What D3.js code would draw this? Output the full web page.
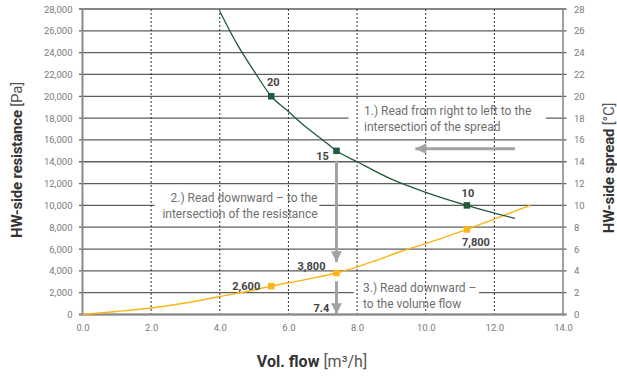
<!DOCTYPE html>
<html>
<head>
<meta charset="utf-8">
<script src="https://cdn.jsdelivr.net/npm/d3@7"></script>
<style>
  html, body { margin: 0; padding: 0; background: #fff; }
  svg { display: block; font-family: Roboto, "Noto Sans", sans-serif; }
</style>
</head>
<body>
<svg id="chart" width="617" height="380"></svg>
<script>
// Axis ticks
const flowTicks = [0, 2, 4, 6, 8, 10, 12, 14];
const resistanceTicks = [0, 2000, 4000, 6000, 8000, 10000, 12000, 14000, 16000, 18000, 20000, 22000, 24000, 26000, 28000];
const spreadTicks = [0, 2, 4, 6, 8, 10, 12, 14, 16, 18, 20, 22, 24, 26, 28];

// HW-side spread curve [°C] over volume flow [m³/h]
const spreadFlow  = [4.0, 4.5, 5.0, 5.5, 6.0, 6.5, 7.0, 7.4, 8.0, 9.0, 10.0, 11.2, 12.0, 12.6];
const spreadValue = [27.8, 24.8, 22.3, 20.0, 18.6, 17.2, 16.0, 15.0, 14.0, 12.4, 11.2, 10.0, 9.3, 8.8];

// HW-side resistance curve [Pa] over volume flow [m³/h]
const resistFlow  = [0, 1, 2, 3, 4, 5, 5.5, 6.5, 7.4, 8.5, 9.25, 10, 11.2, 12, 13.05];
const resistValue = [0, 280, 600, 1050, 1650, 2250, 2600, 3200, 3800, 4900, 5750, 6500, 7800, 8750, 10000];

// Marked points
const spreadMarks = [{ flow: 5.5, value: 20, label: "20" }, { flow: 7.4, value: 15, label: "15" }, { flow: 11.2, value: 10, label: "10" }];
const resistMarks = [{ flow: 5.5, value: 2600, label: "2,600" }, { flow: 7.4, value: 3800, label: "3,800" }, { flow: 11.2, value: 7800, label: "7,800" }];
const readFlow = 7.4;

const svg = d3.select("#chart");
const x = d3.scaleLinear().domain([0, 14]).range([82.5, 563]);
const yP = d3.scaleLinear().domain([0, 28000]).range([314.5, 9]);
const yS = d3.scaleLinear().domain([0, 28]).range([314.5, 9]);

const green = "#1f5a3a", amber = "#f9b416", grey = "#a3a3a5";

// horizontal grid (extends slightly beyond both axes)
svg.append("g").selectAll("line").data(resistanceTicks).join("line")
  .attr("x1", x(0) - 3.5).attr("x2", x(14) + 3.5)
  .attr("y1", d => yP(d)).attr("y2", d => yP(d))
  .attr("stroke", "#5e5e5e").attr("stroke-width", 1.3);

// annotation backgrounds
const boxes = [
  { x0: 7.75, x1: 13.5, y0: 19300, y1: 16300 },
  { x0: 2.1, x1: 6.9, y0: 11200, y1: 8250 },
  { x0: 7.9, x1: 11.55, y0: 3100, y1: 250 }
];
svg.append("g").selectAll("rect").data(boxes).join("rect")
  .attr("x", d => x(d.x0)).attr("width", d => x(d.x1) - x(d.x0))
  .attr("y", d => yP(d.y0)).attr("height", d => yP(d.y1) - yP(d.y0))
  .attr("fill", "#fff");

// dotted vertical grid
svg.append("g").selectAll("line").data(flowTicks.slice(1, -1)).join("line")
  .attr("x1", d => x(d)).attr("x2", d => x(d))
  .attr("y1", yP(28000)).attr("y2", yP(0))
  .attr("stroke", "#333").attr("stroke-width", 1).attr("stroke-dasharray", "2,2");

// axis frame lines
svg.append("line").attr("x1", x(0)).attr("x2", x(0)).attr("y1", yP(28000)).attr("y2", yP(0) + 1)
  .attr("stroke", "#8a8a8a").attr("stroke-width", 2);
svg.append("line").attr("x1", x(14)).attr("x2", x(14)).attr("y1", yP(28000)).attr("y2", yP(0) + 1)
  .attr("stroke", "#8a8a8a").attr("stroke-width", 1.6);
svg.append("line").attr("x1", x(0) - 3.5).attr("x2", x(14) + 3.5).attr("y1", yP(0)).attr("y2", yP(0))
  .attr("stroke", "#8a8a8a").attr("stroke-width", 2);

// tick labels via d3 axes
function styleAxis(g) {
  g.select(".domain").remove();
  g.selectAll("line").remove();
  g.selectAll("text").attr("fill", "#7a7a7a").attr("font-size", "9.5px").attr("font-family", "Roboto, sans-serif");
}
svg.append("g").attr("transform", `translate(${x(0)},0)`)
  .call(d3.axisLeft(yP).tickValues(resistanceTicks).tickFormat(d3.format(",")).tickSize(0).tickPadding(10))
  .call(styleAxis);
svg.append("g").attr("transform", `translate(${x(14)},0)`)
  .call(d3.axisRight(yS).tickValues(spreadTicks).tickFormat(d3.format("d")).tickSize(0).tickPadding(11))
  .call(styleAxis);
svg.append("g").attr("transform", `translate(0,${yP(0)})`)
  .call(d3.axisBottom(x).tickValues(flowTicks).tickFormat(d3.format(".1f")).tickSize(0).tickPadding(10))
  .call(styleAxis);

// annotation texts
const note = svg.append("g").attr("fill", "#6f6f6f").attr("font-size", "12px");
note.append("text").attr("x", 364).attr("y", 115).text("1.) Read from right to left to the");
note.append("text").attr("x", 364).attr("y", 131).text("intersection of the spread");
note.append("text").attr("x", 244).attr("y", 202).attr("text-anchor", "middle").text("2.) Read downward \u2013 to the");
note.append("text").attr("x", 240).attr("y", 218).attr("text-anchor", "middle").text("intersection of the resistance");
note.append("text").attr("x", 363).attr("y", 292).text("3.) Read downward \u2013");
note.append("text").attr("x", 363).attr("y", 308).text("to the volume flow");

// reading arrows
svg.append("defs").append("marker").attr("id", "head")
  .attr("viewBox", "0 0 10 10").attr("refX", 10).attr("refY", 5)
  .attr("markerWidth", 4).attr("markerHeight", 3.6).attr("markerUnits", "strokeWidth")
  .attr("orient", "auto")
  .append("path").attr("d", "M0,0 L10,5 L0,10 Z").attr("fill", grey);
const arrows = [
  { x1: 12.6, y1: 15.2, x2: 9.7, y2: 15.2 },
  { x1: readFlow, y1: 14.1, x2: readFlow, y2: 4.8 },
  { x1: readFlow, y1: 3.05, x2: readFlow, y2: 0.05 }
];
svg.append("g").selectAll("line").data(arrows).join("line")
  .attr("x1", d => x(d.x1)).attr("x2", d => x(d.x2))
  .attr("y1", d => yS(d.y1)).attr("y2", d => yS(d.y2))
  .attr("stroke", grey).attr("stroke-width", 3)
  .attr("marker-end", "url(#head)");

// curves
const spreadLine = d3.line().x(d => x(d[0])).y(d => yS(d[1])).curve(d3.curveMonotoneX);
const resistLine = d3.line().x(d => x(d[0])).y(d => yP(d[1])).curve(d3.curveMonotoneX);
svg.append("path").datum(resistFlow.map((f, i) => [f, resistValue[i]]))
  .attr("d", resistLine).attr("fill", "none").attr("stroke", amber).attr("stroke-width", 1.4);
svg.append("path").datum(spreadFlow.map((f, i) => [f, spreadValue[i]]))
  .attr("d", spreadLine).attr("fill", "none").attr("stroke", green).attr("stroke-width", 1.3);

// markers
const sq = 6.5;
svg.append("g").selectAll("rect").data(spreadMarks).join("rect")
  .attr("x", d => x(d.flow) - sq / 2).attr("y", d => yS(d.value) - sq / 2)
  .attr("width", sq).attr("height", sq).attr("fill", green);
svg.append("g").selectAll("rect").data(resistMarks).join("rect")
  .attr("x", d => x(d.flow) - sq / 2).attr("y", d => yP(d.value) - sq / 2)
  .attr("width", sq).attr("height", sq).attr("fill", amber);

// value labels
const lab = svg.append("g").attr("fill", "#444").attr("font-size", "11px").attr("font-weight", "bold").attr("text-anchor", "middle");
const spreadOffsets = [[2, -10], [-14, 9], [1, -8]];
spreadMarks.forEach((d, i) => lab.append("text")
  .attr("x", x(d.flow) + spreadOffsets[i][0]).attr("y", yS(d.value) + spreadOffsets[i][1]).text(d.label));
const resistOffsets = [[-25, 4], [-25, -3], [9, 17]];
resistMarks.forEach((d, i) => lab.append("text")
  .attr("x", x(d.flow) + resistOffsets[i][0]).attr("y", yP(d.value) + resistOffsets[i][1]).text(d.label));
lab.append("text").attr("x", x(readFlow) - 15).attr("y", 312).text(d3.format(".1f")(readFlow));

// axis titles
const t1 = svg.append("text").attr("transform", "translate(22,160) rotate(-90)")
  .attr("text-anchor", "middle").attr("font-size", "15px").attr("letter-spacing", "-0.2px").attr("fill", "#333");
t1.append("tspan").attr("font-weight", "bold").text("HW-side resistance ");
t1.append("tspan").attr("fill", "#555").text("[Pa]");

const t2 = svg.append("text").attr("transform", "translate(614,168) rotate(-90)")
  .attr("text-anchor", "middle").attr("font-size", "15px").attr("letter-spacing", "-0.2px").attr("fill", "#333");
t2.append("tspan").attr("font-weight", "bold").text("HW-side spread ");
t2.append("tspan").attr("fill", "#555").text("[\u00b0C]");

const t3 = svg.append("text").attr("x", 312).attr("y", 367)
  .attr("text-anchor", "middle").attr("font-size", "16px").attr("fill", "#333");
t3.append("tspan").attr("font-weight", "bold").text("Vol. flow ");
t3.append("tspan").attr("fill", "#555").text("[m\u00b3/h]");
</script>
</body>
</html>
